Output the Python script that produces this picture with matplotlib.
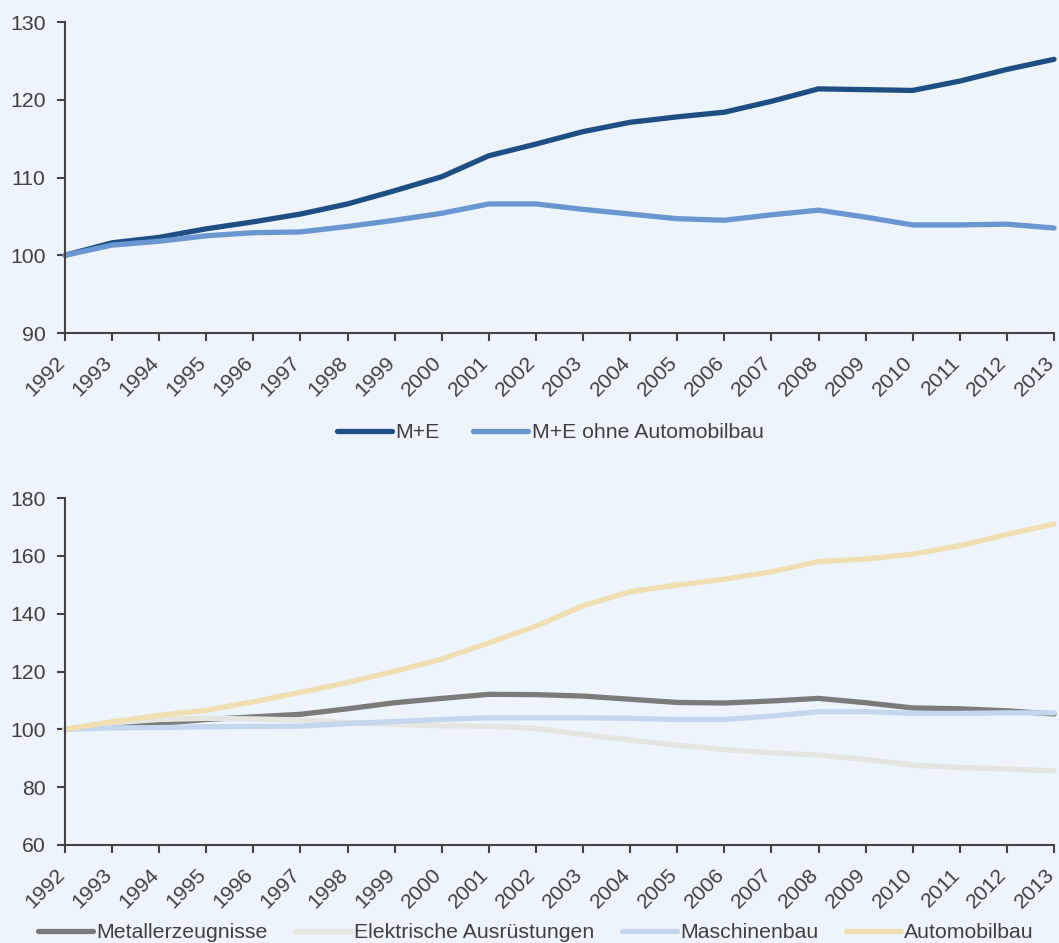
import matplotlib
matplotlib.use("Agg")
import matplotlib.pyplot as plt
import matplotlib.transforms as mtransforms
import numpy as np

years = list(range(1992, 2014))

# Oberes Diagramm
me = [100, 101.6, 102.3, 103.4, 104.3, 105.3, 106.6, 108.3, 110.1, 112.8, 114.3,
      115.9, 117.1, 117.8, 118.4, 119.8, 121.4, 121.3, 121.2, 122.4, 123.9, 125.2]
me_ohne_auto = [100, 101.3, 101.8, 102.5, 102.9, 103.0, 103.7, 104.5, 105.4, 106.6, 106.6,
                105.9, 105.3, 104.7, 104.5, 105.2, 105.8, 104.9, 103.9, 103.9, 104.0, 103.5]

# Unteres Diagramm
metall = [100, 101.5, 102.0, 103.4, 104.3, 105.2, 107.1, 109.2, 110.7, 112.1, 112.0,
          111.5, 110.4, 109.3, 109.1, 109.8, 110.7, 109.2, 107.4, 107.1, 106.4, 105.3]
elektro = [100, 102.2, 103.4, 103.8, 103.6, 103.2, 102.4, 101.7, 101.2, 101.1, 100.3,
           98.2, 96.3, 94.5, 93.0, 91.9, 91.1, 89.6, 87.6, 86.8, 86.3, 85.6]
maschinen = [100, 100.5, 100.6, 100.9, 101.0, 101.1, 102.0, 102.7, 103.4, 104.0, 104.0,
             104.0, 103.8, 103.4, 103.4, 104.6, 106.1, 106.1, 105.5, 105.5, 105.7, 105.7]
auto = [100, 102.6, 104.8, 106.6, 109.5, 112.8, 116.2, 120.1, 124.3, 129.9, 135.7,
        142.7, 147.6, 149.9, 151.9, 154.5, 158.0, 158.9, 160.6, 163.5, 167.4, 171.0]

bg = "#eef4fb"
axc = "#444444"
txt = "#404040"
plt.rcParams['font.family'] = ['Liberation Sans', 'DejaVu Sans']

fig = plt.figure(figsize=(10.59, 9.43), dpi=100, facecolor=bg)
W, H = 1059, 943
ax1 = fig.add_axes([65 / W, 1 - 333 / H, (1054 - 65) / W, (333 - 22) / H])
ax2 = fig.add_axes([65 / W, 1 - 845 / H, (1054 - 65) / W, (845 - 498) / H])

x = np.arange(len(years))
shift = mtransforms.ScaledTranslation(-3 / 100, 0, fig.dpi_scale_trans)


def style(ax, ylim, step):
    ax.set_facecolor(bg)
    for s in ["top", "right"]:
        ax.spines[s].set_visible(False)
    for s in ["left", "bottom"]:
        ax.spines[s].set_color(axc)
        ax.spines[s].set_linewidth(1.5)
    ax.set_xlim(0, len(years) - 1)
    ax.set_ylim(*ylim)
    ax.set_yticks(np.arange(ylim[0], ylim[1] + 1, step))
    ax.set_xticks(x)
    ax.set_xticklabels([str(y) for y in years], rotation=45, ha="right",
                       va="center", rotation_mode="anchor")
    ax.tick_params(axis="both", colors=axc, labelcolor=txt, labelsize=15.3,
                   length=6, width=1.5, direction="out")
    ax.tick_params(axis="x", pad=13)
    ax.tick_params(axis="y", pad=8)
    for lab in ax.get_xticklabels():
        lab.set_transform(lab.get_transform() + shift)


ax1.plot(x, me, color="#1f4e84", lw=3.8, label="M+E", clip_on=False,
         solid_capstyle="round")
ax1.plot(x, me_ohne_auto, color="#6a96d2", lw=3.8, label="M+E ohne Automobilbau",
         clip_on=False, solid_capstyle="round")
style(ax1, (90, 130), 10)

ax2.plot(x, metall, color="#7b7b7b", lw=3.8, label="Metallerzeugnisse", clip_on=False,
         solid_capstyle="round")
ax2.plot(x, elektro, color="#e5e5e1", lw=3.8, label="Elektrische Ausrüstungen",
         clip_on=False, solid_capstyle="round")
ax2.plot(x, maschinen, color="#c4d7ef", lw=3.8, label="Maschinenbau", clip_on=False,
         solid_capstyle="round")
ax2.plot(x, auto, color="#efdfb2", lw=3.8, label="Automobilbau", clip_on=False,
         solid_capstyle="round")
style(ax2, (60, 180), 20)

leg1 = fig.legend(*ax1.get_legend_handles_labels(), loc="center",
                  bbox_to_anchor=(550 / W, 1 - 433 / H), ncol=2, frameon=False,
                  fontsize=15.3, handlelength=2.6, handletextpad=0.15,
                  columnspacing=1.6, labelcolor=txt)
leg2 = fig.legend(*ax2.get_legend_handles_labels(), loc="center",
                  bbox_to_anchor=(536 / W, 1 - 933 / H), ncol=4, frameon=False,
                  fontsize=15.3, handlelength=2.6, handletextpad=0.15,
                  columnspacing=1.3, labelcolor=txt)

fig.savefig("out.png", dpi=100, facecolor=bg)
